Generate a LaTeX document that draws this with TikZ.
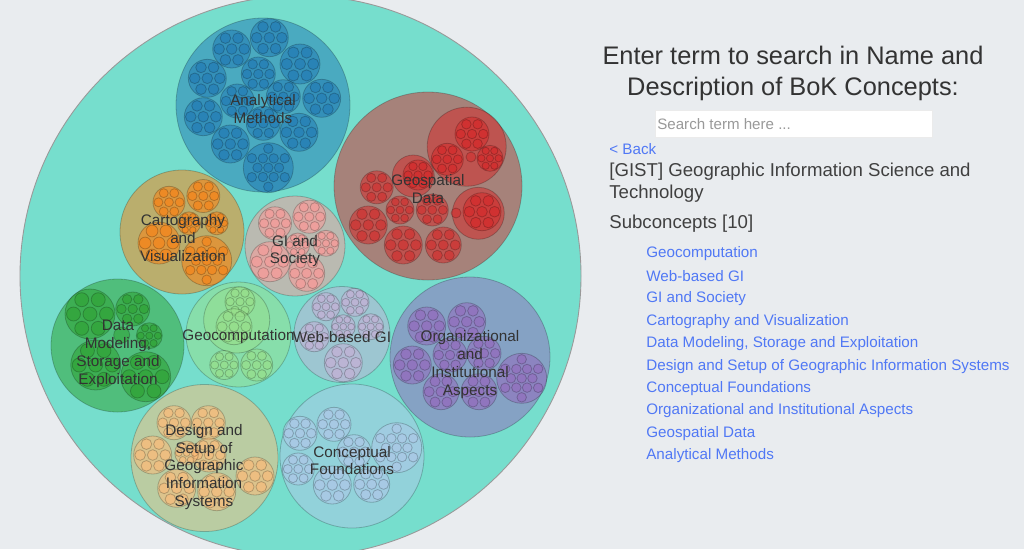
\documentclass[tikz,border=0pt]{standalone}
\usepackage{fontspec}
\setmainfont{Liberation Sans}

\definecolor{pagebg}{HTML}{E9ECEF}
\definecolor{rootfill}{HTML}{76DECD}
\definecolor{cblue}{HTML}{1F77B4}
\definecolor{cred}{HTML}{D62728}
\definecolor{corange}{HTML}{FF7F0E}
\definecolor{cpink}{HTML}{FF9896}
\definecolor{cgreen}{HTML}{2CA02C}
\definecolor{clime}{HTML}{98DF8A}
\definecolor{cpurple}{HTML}{9467BD}
\definecolor{clilac}{HTML}{C5B0D5}
\definecolor{capricot}{HTML}{FFBB78}
\definecolor{csky}{HTML}{AEC7E8}
\definecolor{linkblue}{HTML}{5078F5}

\tikzset{
  bub/.style={draw=black, draw opacity=.22, line width=.45pt, fill=#1, fill opacity=.5},
  inlabel/.style={font=\fontsize{8.7}{10.2}\selectfont, text=black!80, align=center, inner sep=0pt},
  bodytext/.style={font=\fontsize{10.6}{12.5}\selectfont, text=black!75, anchor=west, inner sep=0pt},
  linktext/.style={font=\fontsize{8.65}{10}\selectfont, text=linkblue, anchor=west, inner sep=0pt}
}

% small bubble with seven leaves
\newcommand{\flower}[4]{
  \draw[bub=#1] (#2,#3) circle[radius=#4];
  \draw[bub=#1] (#2,#3) circle[radius={.28*#4}];
  \foreach \a in {0,60,...,300}
    \draw[bub=#1,shift={(#2,#3)}] (\a:{.66*#4}) circle[radius={.28*#4}];
}
% larger bubble with thirteen leaves
\newcommand{\flowerbig}[4]{
  \draw[bub=#1] (#2,#3) circle[radius=#4];
  \draw[bub=#1] (#2,#3) circle[radius={.19*#4}];
  \foreach \a in {0,60,...,300}
    \draw[bub=#1,shift={(#2,#3)}] (\a:{.43*#4}) circle[radius={.19*#4}];
  \foreach \a in {30,90,...,330}
    \draw[bub=#1,shift={(#2,#3)}] (\a:{.76*#4}) circle[radius={.19*#4}];
}

\begin{document}
\begin{tikzpicture}[x=0.02cm,y=-0.02cm]
\useasboundingbox (0,0) rectangle (1024,549);
\clip (0,0) rectangle (1024,549);
\fill[pagebg] (0,0) rectangle (1024,549);
\draw[fill=rootfill, draw=black!40, line width=.5pt] (300.5,276) circle[radius=280.5];

% Analytical Methods
\draw[bub=cblue] (263,105) circle[radius=87];
\foreach \px/\py/\pr in {269.3/37.7/19, 231.7/49/19, 300/64/20, 207.3/78.3/19, 258.3/74/17,
    321.7/98.3/19, 237.3/101/17, 283.3/96.7/17, 203.3/116.7/19, 263.3/123.3/17,
    299/132.3/19, 230.3/144/19}
  \flower{cblue}{\px}{\py}{\pr};
\flowerbig{cblue}{268.3}{167.7}{25}

% Geospatial Data
\draw[bub=cred] (428,186) circle[radius=94];
\draw[bub=cred] (466.7,146.7) circle[radius=39.5];
\draw[bub=cred] (413.3,176) circle[radius=21];
\draw[bub=cred] (478.3,213.3) circle[radius=26];
\draw[bub=cred] (471,157) circle[radius=5];
\draw[bub=cred] (456,213) circle[radius=5];
\foreach \px/\py/\pr in {472/134/17, 447.3/159.3/16, 490/158.3/13, 418/175/15,
    376.7/187.3/16.5, 400/210/14, 432.3/210/16, 482/211.7/19, 368.3/225/19,
    403.3/245/19, 443.3/245/18}
  \flower{cred}{\px}{\py}{\pr};

% Cartography and Visualization
\draw[bub=corange] (182,232) circle[radius=62];
\foreach \px/\py/\pr in {169/202.3/16, 203.3/196/16.5, 189/223.3/11.5, 216.7/223.3/11.5, 159/243/21}
  \flower{corange}{\px}{\py}{\pr};
\flowerbig{corange}{206.7}{260.7}{25}

% GI and Society
\draw[bub=cpink] (295,246) circle[radius=50];
\foreach \px/\py/\pr in {275/223.3/16.5, 309.3/216.7/16.5, 326/243.3/13, 297.7/245/12,
    270/261.7/20, 306.7/273.3/18}
  \flower{cpink}{\px}{\py}{\pr};

% Data Modeling, Storage and Exploitation
\draw[bub=cgreen] (117.5,345.5) circle[radius=66.5];
\draw[bub=cgreen] (121.7,335) circle[radius=8];
\foreach \px/\py/\pr in {90/314/25, 132.7/309/17, 149.3/335.7/13, 95.7/365/25, 145.7/376.7/25}
  \flower{cgreen}{\px}{\py}{\pr};

% Geocomputation
\draw[bub=clime] (238.5,334.5) circle[radius=52.5];
\draw[bub=clime] (236.7,320) circle[radius=33];
\foreach \px/\py/\pr in {240/301.7/15, 234/326.7/18, 224.3/365/14.5, 256.7/365/16}
  \flower{clime}{\px}{\py}{\pr};

% Web-based GI
\draw[bub=clilac] (342,334.5) circle[radius=48];
\foreach \px/\py/\pr in {326/306.7/14, 355/302.3/14, 314.3/336.7/15, 343.3/326.7/12,
    370.7/326.7/13, 343.3/362.7/19}
  \flower{clilac}{\px}{\py}{\pr};

% Organizational and Institutional Aspects
\draw[bub=cpurple] (470,357) circle[radius=80];
\foreach \px/\py/\pr in {426.7/326/19, 466.7/321.7/19, 412.3/365/19, 450/355/17, 484/353.3/17,
    441/391.7/18, 479/391.7/18}
  \flower{cpurple}{\px}{\py}{\pr};
\flowerbig{cpurple}{521.7}{378.3}{25}

% Design and Setup
\draw[bub=capricot] (204.5,458) circle[radius=73.5];
\foreach \px/\py/\pr in {174/422.7/17, 208.3/422.7/17, 152.7/455/19, 209/455/17, 186.7/453/12,
    176.7/488.3/19, 216.7/491.7/19, 255/476/19}
  \flower{capricot}{\px}{\py}{\pr};

% Conceptual Foundations
\draw[bub=csky] (352,456) circle[radius=72];
\foreach \px/\py/\pr in {300/433.3/17, 334/424.3/17, 354/451.7/17, 298.3/469/16,
    332.3/485/19, 371.7/484.3/18}
  \flower{csky}{\px}{\py}{\pr};
\flowerbig{csky}{396.7}{447.7}{25}

% labels of the bubbles
\node[inlabel] (analytical) at (263,109) {Analytical\\Methods};
\node[inlabel] (geospatial) at (428,189) {Geospatial\\Data};
\node[inlabel] (cartography) at (183,238) {Cartography\\and\\Visualization};
\node[inlabel] (gisociety) at (295,251) {GI and\\Society};
\node[inlabel] (datamodel) at (118,353.5) {Data\\Modeling,\\Storage and\\Exploitation};
\node[inlabel] (geocomp) at (238.5,337) {Geocomputation};
\node[inlabel] (webgi) at (342,337) {Web-based GI};
\node[inlabel] (organiz) at (470,364.5) {Organizational\\and\\Institutional\\Aspects};
\node[inlabel] (designsetup) at (204,467) {Design and\\Setup of\\Geographic\\Information\\Systems};
\node[inlabel] (conceptual) at (352,460.5) {Conceptual\\Foundations};

% right panel
\node[font=\fontsize{14.45}{17.6}\selectfont, text=black!80, align=center, inner sep=0pt] (title) at (793,73)
  {Enter term to search in Name and\\Description of BoK Concepts:};
\node[draw=black!8, fill=white, minimum width=277*0.02cm, minimum height=27*0.02cm, inner sep=0pt, line width=.3pt] (searchbox) at (793.5,123.5) {};
\node[font=\fontsize{8.6}{10}\selectfont, text=black!40, anchor=west, inner sep=0pt] (searchtext) at (657,124) {Search term here ...};
\node[linktext] (back) at (609,149.5) {< Back};
\node[bodytext] (gist) at (609,172) {[GIST] Geographic Information Science and};
\node[bodytext] (gist2) at (609,194) {Technology};
\node[bodytext] (subconcepts) at (609,224) {Subconcepts [10]};
\foreach \ly/\ltext [count=\i] in {254/Geocomputation, 276.5/Web-based GI, 299/GI and Society,
    321.5/Cartography and Visualization, 344/{Data Modeling, Storage and Exploitation},
    366.5/Design and Setup of Geographic Information Systems, 388.5/Conceptual Foundations,
    411/Organizational and Institutional Aspects, 433.5/Geospatial Data, 456/Analytical Methods}
  \node[linktext] (item\i) at (646,\ly) {\ltext};
\end{tikzpicture}
\end{document}
